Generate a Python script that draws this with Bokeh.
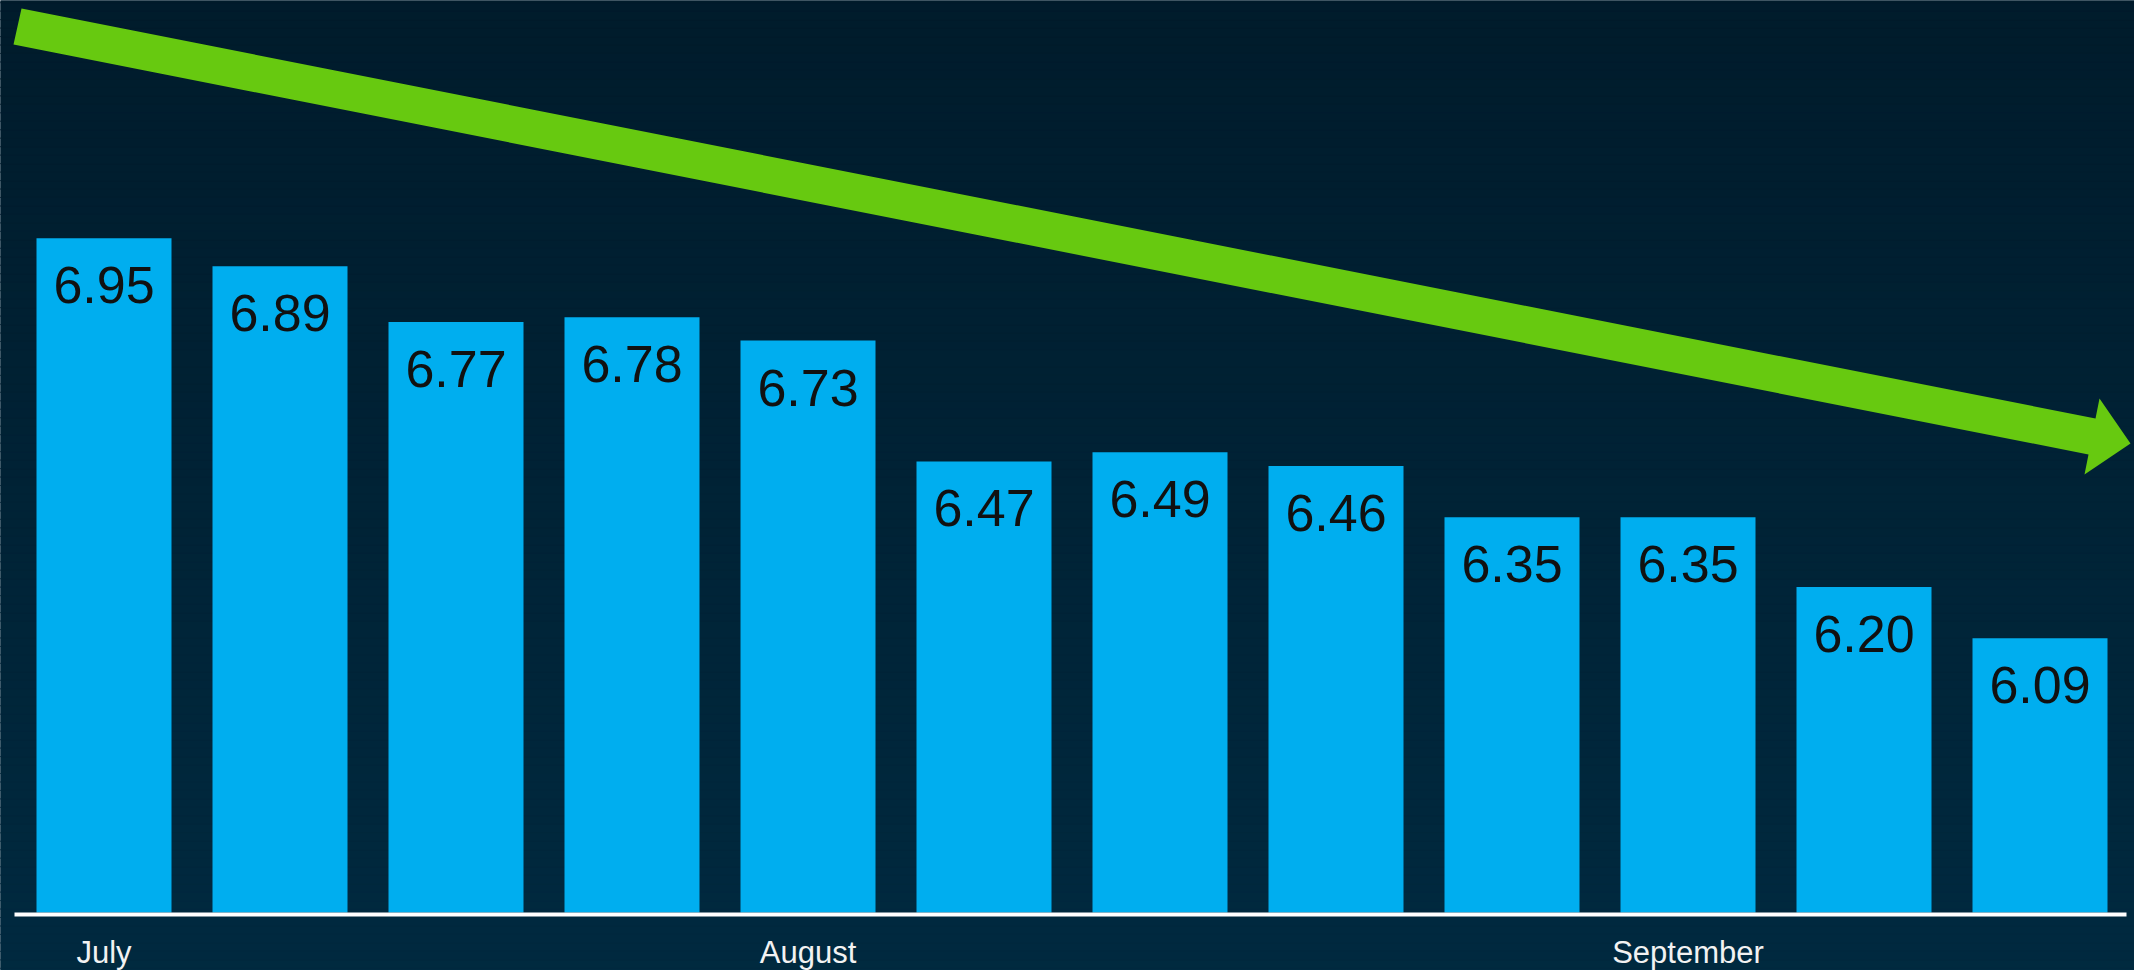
import numpy as np
from bokeh.plotting import figure
from bokeh.models import Range1d, ColumnDataSource
from bokeh.core.properties import value
from bokeh.embed import file_html
from bokeh.resources import INLINE

# ---- data ----
weeks = list(range(12))
rates = [6.95, 6.89, 6.77, 6.78, 6.73, 6.47, 6.49, 6.46, 6.35, 6.35, 6.20, 6.09]
rate_labels = [f"{v:.2f}" for v in rates]
month_names = ["July", "August", "September"]
month_weeks = [0, 4, 9]

# ---- layout constants ----
W, H = 2134, 970
PX_PER_X = 176.0
X0_PX = 103.5
Y_BASE = 5.5
BASE_PX = 912.0
PX_PER_Y = 465.0

x_start = -X0_PX / PX_PER_X
x_end = (W - X0_PX) / PX_PER_X
y_start = Y_BASE - (H - BASE_PX) / PX_PER_Y
y_end = Y_BASE + BASE_PX / PX_PER_Y


def px2x(px):
    return (px - X0_PX) / PX_PER_X


def py2y(py):
    return Y_BASE + (BASE_PX - py) / PX_PER_Y


p = figure(width=W, height=H, x_range=Range1d(x_start, x_end),
           y_range=Range1d(y_start, y_end), output_backend="svg",
           toolbar_location=None, min_border=0, outline_line_color=None)
p.axis.visible = False
p.grid.visible = False
p.background_fill_color = "#00233a"
p.border_fill_color = "#00233a"

# background gradient drawn as horizontal strips (decoration)
top_c = np.array([0, 27, 43])
bot_c = np.array([0, 42, 64])
N = 120
edges = np.linspace(y_start - 0.05, y_end + 0.05, N + 1)
cols = []
for i in range(N):
    t = i / (N - 1)
    c = bot_c + (top_c - bot_c) * t
    cols.append("#%02x%02x%02x" % tuple(int(round(v)) for v in c))
p.quad(left=x_start - 0.5, right=x_end + 0.5, bottom=edges[:-1], top=edges[1:],
       fill_color=cols, line_color=cols, line_width=1)

# bars
src = ColumnDataSource(dict(x=weeks, top=rates, label=rate_labels))
p.vbar(x="x", top="top", bottom=Y_BASE, width=135 / PX_PER_X, source=src,
       fill_color="#00aeef", line_color=None)

# baseline
p.segment(x0=[px2x(14)], y0=[py2y(914)], x1=[px2x(2126)], y1=[py2y(914)],
          line_color="#ffffff", line_width=4)

# trend arrow
arrow_px = [(21, 8), (2095, 418), (2099, 398), (2130, 443), (2084, 474), (2088, 454), (13, 44)]
p.patch([px2x(a) for a, b in arrow_px], [py2y(b) for a, b in arrow_px],
        fill_color="#67c910", line_color=None)

# value labels
p.text(x="x", y="top", text="label", source=src, text_align="center",
       text_baseline="alphabetic", y_offset=47,
       text_font=value("Liberation Sans"), text_font_size="52px", text_color="#111111")

# month labels
p.text(x=month_weeks, y=[py2y(952)] * len(month_weeks), text=month_names,
       text_align="center", text_baseline="alphabetic",
       text_font=value("Liberation Sans"), text_font_size="31px", text_color="#f2f2f2")

open("out.html", "w").write(file_html(p, INLINE))
